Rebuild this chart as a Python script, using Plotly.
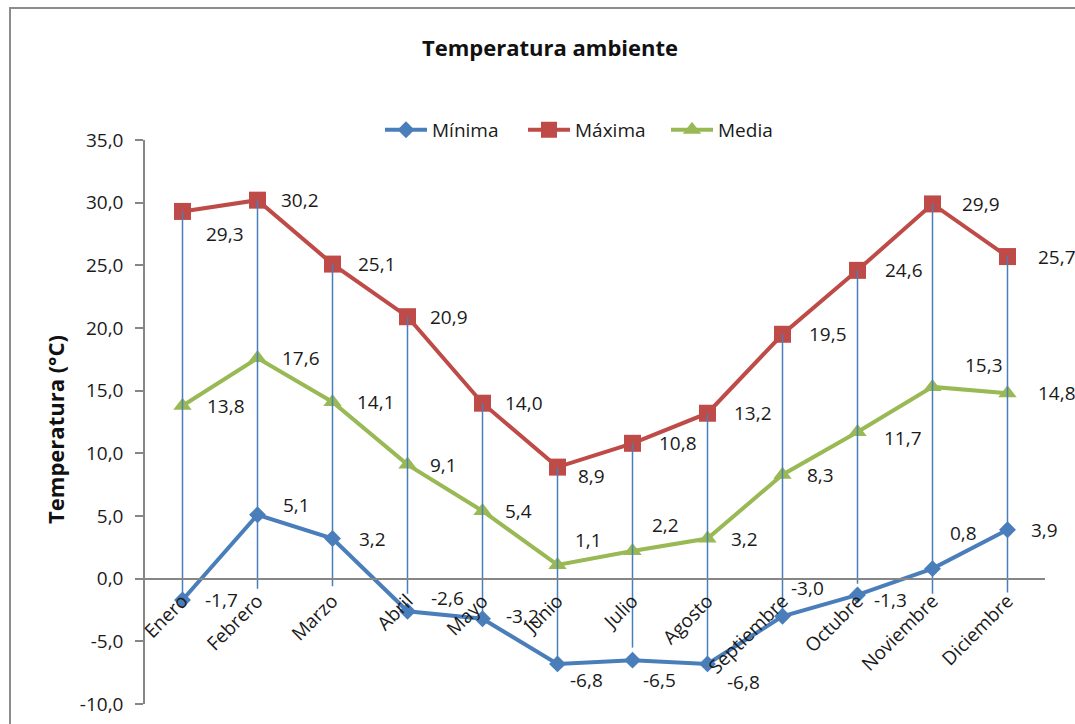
import plotly.graph_objects as go

meses = ["Enero", "Febrero", "Marzo", "Abril", "Mayo", "Junio", "Julio",
         "Agosto", "Septiembre", "Octubre", "Noviembre", "Diciembre"]
minima = [-1.7, 5.1, 3.2, -2.6, -3.2, -6.8, -6.5, -6.8, -3.0, -1.3, 0.8, 3.9]
maxima = [29.3, 30.2, 25.1, 20.9, 14.0, 8.9, 10.8, 13.2, 19.5, 24.6, 29.9, 25.7]
media = [13.8, 17.6, 14.1, 9.1, 5.4, 1.1, 2.2, 3.2, 8.3, 11.7, 15.3, 14.8]
# lower end of each vertical guide line
linea_base = [-1.7, -0.8, -0.6, -1.2, -2.7, -6.8, -5.5, -6.8, -2.8, -0.4, -1.2, -1.1]
ticks_y = [-10, -5, 0, 5, 10, 15, 20, 25, 30, 35]

# label offsets in pixels (dx to the right, dy upward)
off_min = [(20, 0), (23, 10), (24, 0), (21, 13), (21, 3), (10, -16), (8, -20),
           (17, -18), (6, 28), (14, -5), (15, 36), (21, 0)]
off_max = [(21, -23), (21, 0), (23, 0), (20, 0), (20, 0), (18, -9), (24, 0),
           (24, 0), (24, 0), (25, 0), (27, 0), (28, 0)]
off_med = [(22, 0), (22, 0), (22, 0), (20, 0), (20, 0), (15, 25), (17, 26),
           (21, 0), (22, 0), (24, -6), (30, 22), (28, 0)]

AZUL = "#4A7EBB"
ROJO = "#BE4B48"
VERDE = "#98B954"
GRIS = "#868686"
TEXTO = "#1a1a1a"
FUENTE = "Open Sans"


def coma(v):
    return f"{v:.1f}".replace(".", ",")


fig = go.Figure()

fig.add_trace(go.Scatter(
    x=meses, y=minima, name="Mínima", mode="lines+markers",
    line=dict(color=AZUL, width=4),
    marker=dict(symbol="diamond", size=13, color=AZUL),
))
fig.add_trace(go.Scatter(
    x=meses, y=maxima, name="Máxima", mode="lines+markers",
    line=dict(color=ROJO, width=4),
    marker=dict(symbol="square", size=17, color=ROJO),
))
fig.add_trace(go.Scatter(
    x=meses, y=media, name="Media", mode="lines+markers",
    line=dict(color=VERDE, width=4),
    marker=dict(symbol="triangle-up", size=16, color=VERDE),
))

# vertical guide lines from the maximum down toward the category axis
gx, gy = [], []
for m, top, base in zip(meses, maxima, linea_base):
    gx += [m, m, None]
    gy += [top, base, None]
fig.add_trace(go.Scatter(
    x=gx, y=gy, mode="lines", showlegend=False, hoverinfo="skip",
    line=dict(color=AZUL, width=1.5),
))

anotaciones = []
for serie, offs in ((minima, off_min), (maxima, off_max), (media, off_med)):
    for m, v, (dx, dy) in zip(meses, serie, offs):
        anotaciones.append(dict(
            x=m, y=v, text=coma(v), showarrow=False,
            xanchor="left", yanchor="middle", xshift=dx, yshift=dy,
            font=dict(family=FUENTE, size=19, color=TEXTO),
        ))

anotaciones.append(dict(
    text="Temperatura (°C)", textangle=-90, showarrow=False,
    xref="paper", yref="paper", x=-0.1, y=0.486,
    xanchor="center", yanchor="middle",
    font=dict(family=FUENTE, size=22, color="#111111", weight="bold"),
))

fig.update_layout(
    width=1075, height=724,
    margin=dict(l=145, r=30, t=140, b=20, autoexpand=False),
    paper_bgcolor="white", plot_bgcolor="white",
    font=dict(family=FUENTE, size=19, color=TEXTO),
    title=dict(
        text="Temperatura ambiente", x=0.45, xref="paper", xanchor="center",
        y=1 - 48 / 724, yref="container", yanchor="middle",
        font=dict(family=FUENTE, size=22, color="#111111", weight="bold"),
    ),
    legend=dict(
        orientation="h", x=(380 - 145) / 900, xanchor="left",
        y=1.018, yanchor="middle",
        font=dict(family=FUENTE, size=19, color=TEXTO),
        itemwidth=42, entrywidth=86, entrywidthmode="pixels",
        bgcolor="rgba(0,0,0,0)",
    ),
    showlegend=True,
    annotations=anotaciones,
    shapes=[dict(
        type="rect", xref="paper", yref="paper",
        x0=-0.15, x1=1.06, y0=-0.06, y1=(704 - 8) / 564,
        line=dict(color="#8c8c8c", width=2), fillcolor="rgba(0,0,0,0)",
        layer="below",
    )],
)

fig.update_xaxes(
    type="category", range=[-0.5, 11.5],
    anchor="free", position=10 / 45, automargin=False,
    showline=True, linecolor=GRIS, linewidth=1.5,
    ticks="", showgrid=False, zeroline=False, ticklabelstandoff=3,
    tickangle=-45, tickfont=dict(family=FUENTE, size=19, color=TEXTO),
)
fig.update_yaxes(
    range=[-10, 35], tickmode="array", tickvals=ticks_y,
    ticktext=[coma(t) for t in ticks_y], automargin=False,
    showline=True, linecolor=GRIS, linewidth=1.5,
    ticks="outside", ticklen=8, tickcolor=GRIS, tickwidth=1.5,
    showgrid=False, zeroline=False, ticklabelstandoff=8,
    tickfont=dict(family=FUENTE, size=19, color=TEXTO),
)

fig.write_html("out.html")
